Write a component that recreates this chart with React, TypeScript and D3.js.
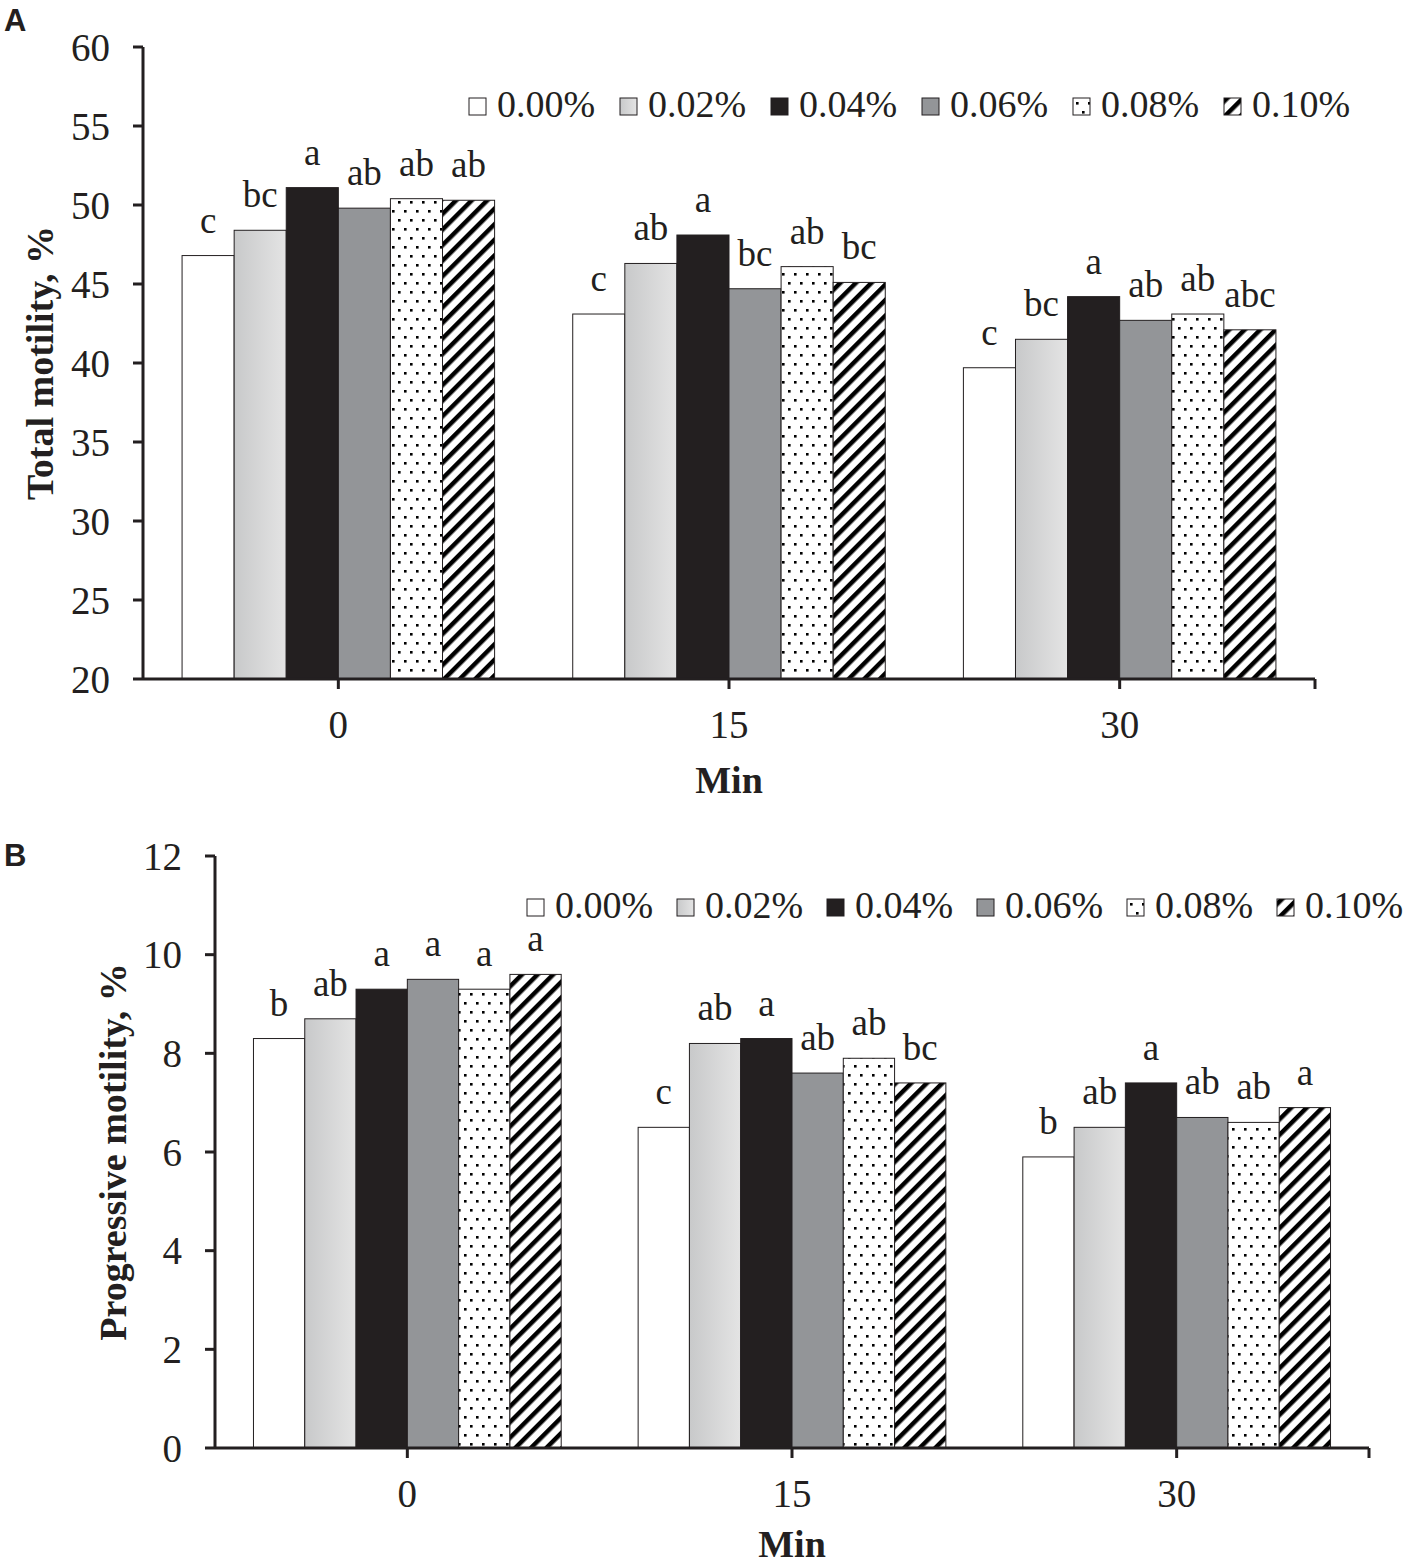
import React from "react";
import * as d3 from "d3";

const groups = ["0", "15", "30"];
const seriesNames = ["0.00%", "0.02%", "0.04%", "0.06%", "0.08%", "0.10%"];

// values per time point (0, 15, 30 min), one entry per concentration
const totalMotility = [
  [46.8, 48.4, 51.1, 49.8, 50.4, 50.3],
  [43.1, 46.3, 48.1, 44.7, 46.1, 45.1],
  [39.7, 41.5, 44.2, 42.7, 43.1, 42.1],
];
const totalLetters = [
  ["c", "bc", "a", "ab", "ab", "ab"],
  ["c", "ab", "a", "bc", "ab", "bc"],
  ["c", "bc", "a", "ab", "ab", "abc"],
];
const totalTicks = [20, 25, 30, 35, 40, 45, 50, 55, 60];

const progressiveMotility = [
  [8.3, 8.7, 9.3, 9.5, 9.3, 9.6],
  [6.5, 8.2, 8.3, 7.6, 7.9, 7.4],
  [5.9, 6.5, 7.4, 6.7, 6.6, 6.9],
];
const progressiveLetters = [
  ["b", "ab", "a", "a", "a", "a"],
  ["c", "ab", "a", "ab", "ab", "bc"],
  ["b", "ab", "a", "ab", "ab", "a"],
];
const progressiveTicks = [0, 2, 4, 6, 8, 10, 12];

const ink = "#231f20";
const serif = "'Liberation Serif', 'Times New Roman', serif";
const fills = [
  "#ffffff",
  "url(#grad)",
  ink,
  "#939598",
  "url(#dots)",
  "url(#hatch)",
];

interface PanelProps {
  label: string;
  title: string;
  values: number[][];
  letters: string[][];
  ticks: number[];
  x0: number;
  x1: number;
  yTop: number;
  yBottom: number;
  titleX: number;
  minY: number;
  legendX: number;
  legendY: number;
  legendStep: number;
  labelY: number;
}

function Panel(p: PanelProps) {
  const x = d3.scaleBand<string>().domain(groups).range([p.x0, p.x1]);
  const inner = d3
    .scaleBand<string>()
    .domain(seriesNames)
    .range([0, x.bandwidth()])
    .paddingOuter(0.75);
  const y = d3
    .scaleLinear()
    .domain(d3.extent(p.ticks) as [number, number])
    .range([p.yBottom, p.yTop]);
  const base = y.domain()[0];

  return (
    <g>
      <text
        x={4}
        y={p.labelY}
        fontFamily="'Liberation Sans', Arial, sans-serif"
        fontWeight="bold"
        fontSize={31}
        fill={ink}
      >
        {p.label}
      </text>

      {/* bars */}
      {groups.map((g, gi) =>
        seriesNames.map((s, si) => {
          const v = p.values[gi][si];
          const bx = (x(g) as number) + (inner(s) as number);
          return (
            <g key={g + s}>
              <rect
                x={bx}
                y={y(v)}
                width={inner.bandwidth()}
                height={y(base) - y(v)}
                fill={fills[si]}
                stroke={ink}
                strokeWidth={1}
              />
              <text
                x={bx + inner.bandwidth() / 2}
                y={y(v) - 23}
                textAnchor="middle"
                fontFamily={serif}
                fontSize={37}
                fill={ink}
              >
                {p.letters[gi][si]}
              </text>
            </g>
          );
        })
      )}

      {/* y axis */}
      <line x1={p.x0} x2={p.x0} y1={y(base)} y2={p.yTop} stroke={ink} strokeWidth={3} />
      {p.ticks.map((t) => (
        <g key={t}>
          <line x1={p.x0 - 10} x2={p.x0} y1={y(t)} y2={y(t)} stroke={ink} strokeWidth={3} />
          <text
            x={p.x0 - 33}
            y={y(t)}
            dy="0.35em"
            textAnchor="end"
            fontFamily={serif}
            fontSize={39}
            fill={ink}
          >
            {t}
          </text>
        </g>
      ))}
      <text
        transform={`translate(${p.titleX}, ${(p.yTop + p.yBottom) / 2}) rotate(-90)`}
        textAnchor="middle"
        fontFamily={serif}
        fontWeight="bold"
        fontSize={38}
        fill={ink}
      >
        {p.title}
      </text>

      {/* x axis */}
      <line x1={p.x0} x2={p.x1} y1={y(base)} y2={y(base)} stroke={ink} strokeWidth={3} />
      {groups.map((g) => {
        const cx = (x(g) as number) + x.bandwidth() / 2;
        return (
          <g key={g}>
            <line x1={cx} x2={cx} y1={y(base)} y2={y(base) + 10} stroke={ink} strokeWidth={3} />
            <text
              x={cx}
              y={y(base) + 59}
              textAnchor="middle"
              fontFamily={serif}
              fontSize={39}
              fill={ink}
            >
              {g}
            </text>
          </g>
        );
      })}
      <line x1={p.x1} x2={p.x1} y1={y(base)} y2={y(base) + 10} stroke={ink} strokeWidth={3} />
      <text
        x={(p.x0 + p.x1) / 2}
        y={p.minY}
        textAnchor="middle"
        fontFamily={serif}
        fontWeight="bold"
        fontSize={38}
        fill={ink}
      >
        Min
      </text>

      {/* legend */}
      {seriesNames.map((s, si) => {
        const lx = p.legendX + si * p.legendStep;
        return (
          <g key={s}>
            <rect
              x={lx}
              y={p.legendY - 19}
              width={17}
              height={17}
              fill={fills[si]}
              stroke={ink}
              strokeWidth={1}
            />
            <text x={lx + 28} y={p.legendY} fontFamily={serif} fontSize={38} fill={ink}>
              {s}
            </text>
          </g>
        );
      })}
    </g>
  );
}

export default function App() {
  return (
    <svg
      width={1408}
      height={1567}
      style={{ position: "absolute", left: 0, top: 0, background: "#fff" }}
    >
      <defs>
        <linearGradient id="grad" x1="0" x2="1" y1="0" y2="0">
          <stop offset="0" stopColor="#c8c9ca" />
          <stop offset="1" stopColor="#e4e4e4" />
        </linearGradient>
        <pattern id="dots" width={12} height={18} patternUnits="userSpaceOnUse">
          <rect width={12} height={18} fill="#fff" />
          <rect x={2} y={3} width={2.6} height={2.6} fill="#000" />
          <rect x={8} y={12} width={2.6} height={2.6} fill="#000" />
        </pattern>
        <pattern
          id="hatch"
          width={11}
          height={11}
          patternUnits="userSpaceOnUse"
          patternTransform="rotate(45)"
        >
          <rect width={11} height={11} fill="#fff" />
          <rect x={0} y={0} width={4.5} height={11} fill="#000" />
        </pattern>
      </defs>

      <Panel
        label="A"
        title="Total motility, %"
        values={totalMotility}
        letters={totalLetters}
        ticks={totalTicks}
        x0={143}
        x1={1315}
        yTop={47}
        yBottom={679}
        titleX={53}
        minY={793}
        legendX={469}
        legendY={117}
        legendStep={151}
        labelY={31}
      />
      <Panel
        label="B"
        title="Progressive motility, %"
        values={progressiveMotility}
        letters={progressiveLetters}
        ticks={progressiveTicks}
        x0={215}
        x1={1369}
        yTop={856}
        yBottom={1448}
        titleX={126}
        minY={1557}
        legendX={527}
        legendY={918}
        legendStep={150}
        labelY={866}
      />
    </svg>
  );
}
